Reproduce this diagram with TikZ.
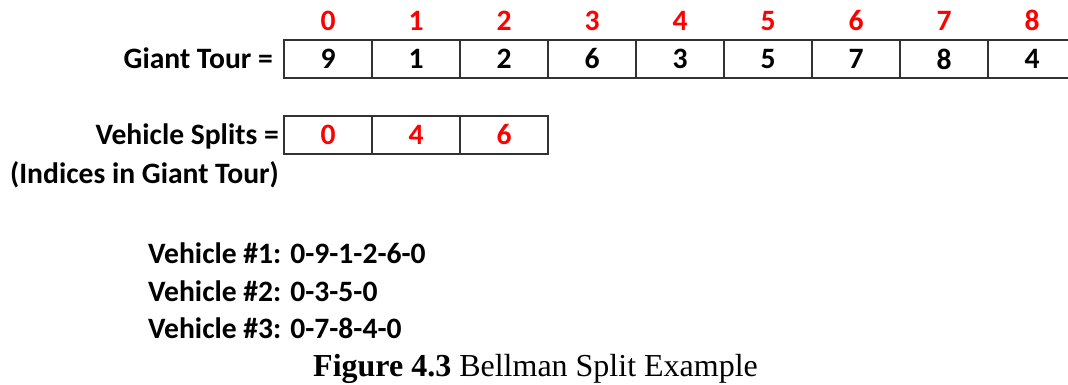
\documentclass[tikz,border=0pt]{standalone}
\usepackage{fontspec}
\setmainfont{Carlito}
\newfontfamily\capfont{Liberation Serif}
\newcommand\lblfont{\fontsize{29.6}{34}\selectfont\bfseries}
\newcommand\capsize{\fontsize{32}{36}\selectfont}
\definecolor{idxred}{RGB}{255,0,0}
\definecolor{gridgray}{RGB}{50,50,50}
\tikzset{
  cell/.style={draw=gridgray, line width=1.4pt, minimum width=88pt, minimum height=38pt,
    inner sep=0pt, outer sep=0pt, anchor=north west, font=\lblfont},
  idx/.style={text=idxred, font=\lblfont, anchor=base, inner sep=0pt},
  lbl/.style={font=\lblfont, inner sep=0pt},
}
\begin{document}
\begin{tikzpicture}[x=1pt,y=-1pt]
\useasboundingbox (0,0) rectangle (1068,385);
% giant tour
\foreach \v [count=\i from 0] in {9,1,2,6,3,5,7,8,4} {
  \node[cell] (g\i) at ({284+88*\i},40) {\v};
  \node[idx] (i\i) at ({328+88*\i},31) {\i};
}
\node[lbl, anchor=base east] (gt) at (273,69) {Giant Tour =};
% vehicle splits
\foreach \v [count=\i from 0] in {0,4,6} {
  \node[cell, text=idxred] (s\i) at ({284+88*\i},116) {\v};
}
\node[lbl, anchor=base east] (vs) at (279,145) {Vehicle Splits =};
\node[lbl, anchor=base east] (ind) at (279,183) {(Indices in Giant Tour)};
% routes
\node[lbl, anchor=base west] (v1) at (148,263) {Vehicle \#1: 0-9-1-2-6-0};
\node[lbl, anchor=base west] (v2) at (148,301) {Vehicle \#2: 0-3-5-0};
\node[lbl, anchor=base west] (v3) at (148,338) {Vehicle \#3: 0-7-8-4-0};
% caption
\node[anchor=base west, inner sep=0pt, font=\capfont\capsize] (cap) at (313,376) {\textbf{Figure 4.3} Bellman Split Example};
\end{tikzpicture}
\end{document}
